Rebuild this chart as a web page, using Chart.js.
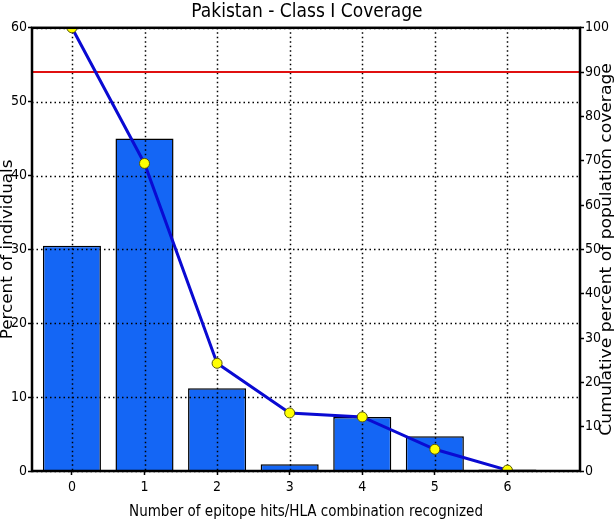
<!DOCTYPE html>
<html>
<head>
<meta charset="utf-8">
<script src="https://cdn.jsdelivr.net/npm/chart.js@4"></script>
<style>
	html, body { margin: 0; padding: 0; background: #fff; }
	#wrap { width: 614px; height: 525px; }
</style>
</head>
<body>
<div id="wrap"><canvas id="coverage-chart" width="614" height="525"></canvas></div>
<script>
var hitCounts = [0, 1, 2, 3, 4, 5, 6];
var percentIndividuals = [30.5, 45.0, 11.2, 0.9, 7.3, 4.7, 0.2];
var cumulativeCoverage = [100, 69.4, 24.3, 13.1, 12.2, 4.9, 0.2];
var coverageTarget = 90;
var leftTicks = [0, 10, 20, 30, 40, 50, 60];

var chartTitle = "Pakistan - Class I Coverage";
var xTitle = "Number of epitope hits/HLA combination recognized";
var yTitle = "Percent of individuals";
var y1Title = "Cumulative percent of population coverage";

var fontFamily = "'DejaVu Sans Condensed', 'DejaVu Sans', sans-serif";

// the source picture is stretched vertically, so the side titles are drawn stretched along their length
function drawSideTitle(ctx, text, cx, cy, stretch) {
	ctx.save();
	ctx.translate(cx, cy);
	ctx.rotate(-Math.PI / 2);
	ctx.scale(stretch, 1);
	ctx.fillStyle = "#000";
	ctx.font = "15px " + fontFamily;
	ctx.textAlign = "center";
	ctx.textBaseline = "middle";
	ctx.fillText(text, 0, 0);
	ctx.restore();
}

// grid drawn over the bars but under the cumulative line, like the original
var gridPlugin = {
	id: "gridOverBars",
	afterDatasetDraw: function(chart, args) {
		if(args.index !== 0)
			return;
		var ctx = chart.ctx;
		var area = chart.chartArea;
		var xScale = chart.scales.x;
		var yScale = chart.scales.y;
		ctx.save();
		ctx.strokeStyle = "#000";
		ctx.lineWidth = 1.5;
		ctx.setLineDash([1.5, 3]);
		leftTicks.forEach(function(v) {
			var py = Math.round(yScale.getPixelForValue(v)) + 0.5;
			ctx.beginPath();
			ctx.moveTo(area.left, py);
			ctx.lineTo(area.right, py);
			ctx.stroke();
		});
		hitCounts.forEach(function(v) {
			var px = Math.round(xScale.getPixelForValue(v)) + 0.5;
			ctx.beginPath();
			ctx.moveTo(px, area.top);
			ctx.lineTo(px, area.bottom);
			ctx.stroke();
		});
		ctx.setLineDash([]);
		var ry = chart.scales.y1.getPixelForValue(coverageTarget);
		ctx.strokeStyle = "#e01010";
		ctx.lineWidth = 2;
		ctx.beginPath();
		ctx.moveTo(area.left, ry);
		ctx.lineTo(area.right, ry);
		ctx.stroke();
		ctx.restore();
	},
	afterDraw: function(chart) {
		var ctx = chart.ctx;
		var area = chart.chartArea;
		var midY = (area.top + area.bottom) / 2;
		ctx.save();
		ctx.strokeStyle = "#000";
		ctx.lineWidth = 2.5;
		ctx.strokeRect(area.left, area.top, area.right - area.left, area.bottom - area.top);
		ctx.restore();
		drawSideTitle(ctx, yTitle, 8, midY, 1.24);
		drawSideTitle(ctx, y1Title, 607, midY, 1.27);
	}
};

window.onload = function() {
	var barPoints = hitCounts.map(function(h, i) { return {x: h, y: percentIndividuals[i]}; });
	var linePoints = hitCounts.map(function(h, i) { return {x: h, y: cumulativeCoverage[i]}; });

	window.coverageChart = new Chart(document.getElementById("coverage-chart"), {
		data: {
			datasets: [{
				type: "bar",
				label: yTitle,
				data: barPoints,
				yAxisID: "y",
				backgroundColor: "#1466f5",
				borderColor: "#000",
				borderWidth: 1.5,
				borderSkipped: "bottom",
				barPercentage: 1,
				categoryPercentage: 0.8,
				order: 2
			}, {
				type: "line",
				label: y1Title,
				data: linePoints,
				yAxisID: "y1",
				borderColor: "#0a0ad2",
				borderWidth: 3,
				pointRadius: 5,
				pointBackgroundColor: "#ffff00",
				pointBorderColor: "#55550a",
				pointBorderWidth: 1,
				tension: 0,
				clip: 0,
				order: 1
			}]
		},
		plugins: [gridPlugin],
		options: {
			responsive: false,
			animation: { duration: 0 },
			layout: { padding: 0 },
			plugins: {
				legend: { display: false },
				tooltip: { enabled: false },
				title: {
					display: true,
					text: chartTitle,
					color: "#000",
					font: { family: fontFamily, size: 19, weight: "normal", lineHeight: 1.2 },
					padding: { top: 1, bottom: 4 }
				}
			},
			scales: {
				x: {
					type: "linear",
					offset: false,
					min: -0.55,
					max: 7.0,
					afterBuildTicks: function(scale) {
						scale.ticks = hitCounts.map(function(v) { return {value: v}; });
					},
					afterFit: function(scale) { scale.height = 54; },
					ticks: {
						color: "#000",
						font: { family: fontFamily, size: 14 },
						padding: 4,
						maxRotation: 0
					},
					grid: { offset: false, drawOnChartArea: false, tickLength: 4, tickColor: "#000", tickWidth: 1.5 },
					border: { display: false },
					title: {
						display: true,
						text: xTitle,
						color: "#000",
						font: { family: fontFamily, size: 15, lineHeight: 1.2 },
						padding: { top: 0, bottom: 4 }
					}
				},
				y: {
					position: "left",
					min: 0,
					max: 60,
					afterBuildTicks: function(scale) {
						scale.ticks = leftTicks.map(function(v) { return {value: v}; });
					},
					afterFit: function(scale) { scale.width = 32; },
					ticks: {
						color: "#000",
						font: { family: fontFamily, size: 14 },
						padding: 1
					},
					grid: { drawOnChartArea: false, tickLength: 4, tickColor: "#000", tickWidth: 1.5 },
					border: { display: false }
				},
				y1: {
					position: "right",
					min: 0,
					max: 100,
					afterFit: function(scale) { scale.width = 34; },
					ticks: {
						stepSize: 10,
						color: "#000",
						font: { family: fontFamily, size: 14 },
						padding: 1
					},
					grid: { drawOnChartArea: false, tickLength: 4, tickColor: "#000", tickWidth: 1.5 },
					border: { display: false }
				}
			}
		}
	});
};
</script>
</body>
</html>
